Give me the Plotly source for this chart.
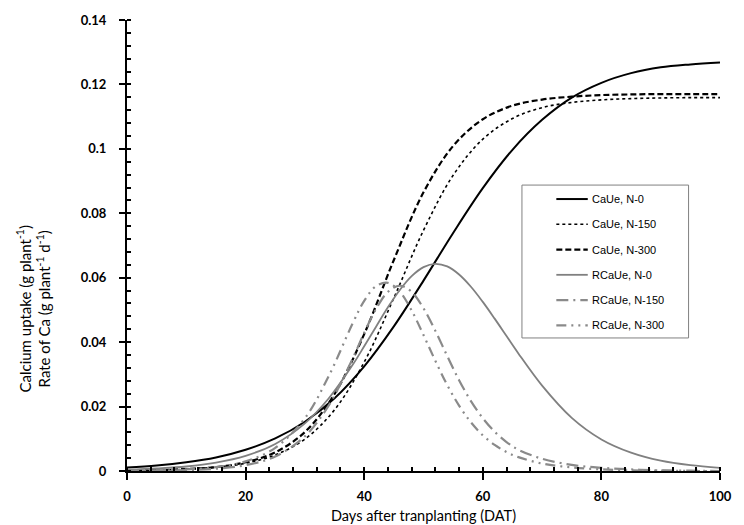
import plotly.graph_objects as go

# ---- data ----
days_uptake = [0, 5, 10, 15, 20, 25, 30, 35, 40, 45, 50, 55, 60, 65, 70, 75, 80, 85, 90, 95, 100]
caue_n0 = [0.0011, 0.0017, 0.0027, 0.0042, 0.0066, 0.0101, 0.0153, 0.0226, 0.0325, 0.0449, 0.0591,
           0.0739, 0.0878, 0.0997, 0.1090, 0.1159, 0.1205, 0.1235, 0.1253, 0.1262, 0.1268]
caue_n150 = [0.0001, 0.0003, 0.0006, 0.0012, 0.0024, 0.0050, 0.0099, 0.0190, 0.0338, 0.0537, 0.0747,
             0.0918, 0.1030, 0.1094, 0.1128, 0.1144, 0.1152, 0.1156, 0.1158, 0.1159, 0.1159]
caue_n300 = [0.0001, 0.0002, 0.0006, 0.0012, 0.0027, 0.0058, 0.0121, 0.0239, 0.0425, 0.0655, 0.0865,
             0.1009, 0.1092, 0.1134, 0.1153, 0.1162, 0.1167, 0.1169, 0.1170, 0.1170, 0.1170]

days_rate = [0, 5, 10, 15, 20, 25, 30, 34, 38, 40, 42, 44, 46, 48, 50, 52, 54, 56, 58, 60,
             62, 64, 66, 70, 75, 80, 85, 90, 95, 100]
rcaue_n0 = [0.0004, 0.0008, 0.0014, 0.0026, 0.0047, 0.0084, 0.0148, 0.0225, 0.0328, 0.0387,
            0.0448, 0.0508, 0.0562, 0.0605, 0.0633, 0.0643, 0.0635, 0.0610, 0.0572, 0.0525,
            0.0473, 0.0419, 0.0365, 0.0265, 0.0165, 0.0098, 0.0057, 0.0032, 0.0018, 0.0010]
rcaue_n150 = [0.0000, 0.0001, 0.0003, 0.0007, 0.0018, 0.0045, 0.0108, 0.0203, 0.0347, 0.0429,
              0.0503, 0.0556, 0.0575, 0.0556, 0.0505, 0.0435, 0.0357, 0.0282, 0.0217, 0.0164,
              0.0122, 0.0090, 0.0066, 0.0038, 0.0019, 0.0010, 0.0005, 0.0002, 0.0001, 0.0000]
rcaue_n300 = [0.0001, 0.0002, 0.0005, 0.0012, 0.0030, 0.0072, 0.0164, 0.0294, 0.0456, 0.0528,
              0.0574, 0.0584, 0.0557, 0.0498, 0.0422, 0.0342, 0.0267, 0.0203, 0.0151, 0.0111,
              0.0081, 0.0059, 0.0043, 0.0023, 0.0011, 0.0005, 0.0002, 0.0001, 0.0000, 0.0000]

series_names = ["CaUe, N-0", "CaUe, N-150", "CaUe, N-300",
                "RCaUe, N-0", "RCaUe, N-150", "RCaUe, N-300"]

x_ticks = [0, 20, 40, 60, 80, 100]
x_ticktext = ["0", "20", "40", "60", "80", "100"]
y_ticks = [0, 0.02, 0.04, 0.06, 0.08, 0.1, 0.12, 0.14]
y_ticktext = ["0", "0.02", "0.04", "0.06", "0.08", "0.1", "0.12", "0.14"]

x_title = "Days after tranplanting (DAT)"
y_title = "Calcium uptake (g plant<sup>-1</sup>)<br>Rate of Ca (g plant<sup>-1</sup> d<sup>-1</sup>)"

# ---- styling ----
grey = "#808080"
styles = [
    dict(color="black", width=2, dash="solid"),
    dict(color="black", width=1.6, dash="dot"),
    dict(color="black", width=2.2, dash="6px,3px"),
    dict(color=grey, width=1.8, dash="solid"),
    dict(color="#8a8a8a", width=2.2, dash="12px,5px,2px,5px"),
    dict(color="#8a8a8a", width=2.2, dash="10px,5px,2px,5px,2px,5px"),
]

data_sets = [(days_uptake, caue_n0), (days_uptake, caue_n150), (days_uptake, caue_n300),
             (days_rate, rcaue_n0), (days_rate, rcaue_n150), (days_rate, rcaue_n300)]

fig = go.Figure()
for i, (name, (xs, ys), st) in enumerate(zip(series_names, data_sets, styles)):
    fig.add_trace(go.Scatter(x=xs, y=ys, name=name, mode="lines", showlegend=False,
                             line=dict(color=st["color"], width=st["width"], dash=st["dash"],
                                       shape="spline", smoothing=1.0)))

# ---- boxed legend (Excel style: sample line then label) ----
legend_shapes = [dict(type="rect", xref="paper", yref="paper", x0=0.666, x1=0.947, y0=0.295, y1=0.634,
                      line=dict(color=grey, width=1), fillcolor="white", layer="above")]
legend_notes = []
row_y = [0.603, 0.547, 0.491, 0.435, 0.379, 0.323]
for name, st, yy in zip(series_names, styles, row_y):
    legend_shapes.append(dict(type="line", xref="paper", yref="paper", x0=0.724, x1=0.777, y0=yy, y1=yy,
                              line=dict(color=st["color"], width=st["width"], dash=st["dash"]),
                              layer="above"))
    legend_notes.append(dict(text=name, xref="paper", yref="paper", x=0.781, y=yy,
                             xanchor="left", yanchor="middle", showarrow=False,
                             font=dict(family="Liberation Sans, Arial, sans-serif", size=11, color="black")))

tick_font = dict(family="Lato, Carlito, Calibri, sans-serif", size=13, color="black", weight="bold")

fig.update_layout(
    width=744, height=525,
    margin=dict(l=127, r=12, t=20, b=54),
    paper_bgcolor="white", plot_bgcolor="white",
    showlegend=False,
    xaxis=dict(range=[0, 100], tickvals=x_ticks, ticktext=x_ticktext,
               showline=True, linecolor="black", linewidth=2,
               ticks="outside", ticklen=7, tickwidth=2, tickcolor="black",
               minor=dict(ticks="inside", ticklen=4, tickwidth=1.5, dtick=4, tickcolor="black", showgrid=False),
               showgrid=False, zeroline=False, tickfont=tick_font, ticklabelstandoff=5),
    yaxis=dict(range=[0, 0.14], tickvals=y_ticks, ticktext=y_ticktext,
               showline=True, linecolor="black", linewidth=2,
               ticks="outside", ticklen=6, tickwidth=2, tickcolor="black",
               minor=dict(ticks="inside", ticklen=4, tickwidth=1.5, dtick=0.004, tickcolor="black", showgrid=False),
               showgrid=False, zeroline=False, tickfont=tick_font, ticklabelstandoff=10),
    shapes=legend_shapes,
    annotations=[
        dict(text=x_title, xref="paper", yref="paper", x=0.5, y=-0.099,
             xanchor="center", yanchor="middle", showarrow=False,
             font=dict(family="Lato, Carlito, Calibri, sans-serif", size=14.5, color="black")),
        dict(text=y_title, xref="paper", yref="paper", x=-0.157, y=0.36,
             xanchor="center", yanchor="middle", showarrow=False, textangle=-90,
             font=dict(family="Lato, Carlito, Calibri, sans-serif", size=15, color="black")),
    ] + legend_notes,
)

fig.write_html("out.html")
